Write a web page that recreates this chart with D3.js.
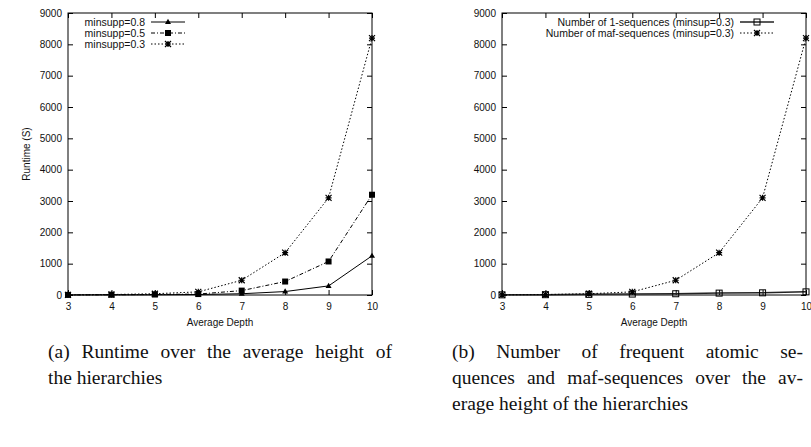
<!DOCTYPE html>
<html>
<head>
<meta charset="utf-8">
<script src="https://cdn.jsdelivr.net/npm/d3@7"></script>
<style>
  html, body { margin: 0; padding: 0; background: #fff; }
  svg { display: block; }
  .lbl { font-family: "Liberation Sans", Arial, sans-serif; font-size: 10.5px; fill: #111; }
  .tlbl { font-family: "Liberation Sans", Arial, sans-serif; font-size: 10px; fill: #111; }
  .cap { font-family: "Liberation Serif", "Times New Roman", serif; font-size: 19.5px; fill: #111; }
</style>
</head>
<body>
<svg id="chart" width="811" height="447"></svg>
<script>
// ---------- data ----------
const depths = [3, 4, 5, 6, 7, 8, 9, 10];
const xTicks = [3, 4, 5, 6, 7, 8, 9, 10];
const yTicks = [0, 1000, 2000, 3000, 4000, 5000, 6000, 7000, 8000, 9000];

const runtime08 = [2, 5, 8, 15, 40, 110, 290, 1250];
const runtime05 = [3, 8, 15, 30, 140, 430, 1070, 3200];
const runtime03 = [5, 15, 40, 100, 470, 1350, 3100, 8200];

const oneSeq = [5, 10, 20, 30, 40, 60, 70, 100];
const mafSeq = [5, 15, 40, 100, 470, 1350, 3100, 8200];

const leftLabels = ["minsupp=0.8", "minsupp=0.5", "minsupp=0.3"];
const rightLabels = ["Number of 1-sequences (minsup=0.3)", "Number of maf-sequences (minsup=0.3)"];

const captionA = ["(a) Runtime over the average height of", "the hierarchies"];
const captionB = ["(b) Number of frequent atomic se-", "quences and maf-sequences over the av-", "erage height of the hierarchies"];

// ---------- drawing ----------
const svg = d3.select("#chart");

function marker(g, type, x, y) {
  const s = 3;
  if (type === "tri") {
    g.append("path").attr("d", `M${x},${y - 3.2}L${x + 3},${y + 2}L${x - 3},${y + 2}Z`).attr("fill", "#000");
  } else if (type === "sq") {
    g.append("rect").attr("x", x - 3).attr("y", y - 3).attr("width", 6).attr("height", 6).attr("fill", "#000");
  } else if (type === "osq") {
    g.append("rect").attr("x", x - 3).attr("y", y - 3).attr("width", 6).attr("height", 6)
      .attr("fill", "none").attr("stroke", "#000").attr("stroke-width", 1);
  } else if (type === "star") {
    g.append("path").attr("d",
      `M${x - s},${y}H${x + s}M${x},${y - s}V${y + s}M${x - s},${y - s}L${x + s},${y + s}M${x - s},${y + s}L${x + s},${y - s}`)
      .attr("stroke", "#000").attr("stroke-width", 1.2).attr("fill", "none");
  }
}

function panel(opts) {
  const g = svg.append("g");
  const x = d3.scaleLinear().domain([3, 10]).range([opts.x0, opts.x1]);
  const y = d3.scaleLinear().domain([0, 9000]).range([295, 13]);

  // frame
  g.append("rect").attr("x", opts.x0).attr("y", 13)
    .attr("width", opts.x1 - opts.x0).attr("height", 282)
    .attr("fill", "none").attr("stroke", "#000").attr("stroke-width", 1);

  // axes (inward ticks, mirrored)
  const ax = g.append("g").attr("transform", "translate(0,295)")
    .call(d3.axisBottom(x).tickValues(xTicks).tickSizeInner(-5).tickSizeOuter(0).tickPadding(8).tickFormat(d3.format("d")));
  ax.select(".domain").remove();
  const axt = g.append("g").attr("transform", "translate(0,13)")
    .call(d3.axisTop(x).tickValues(xTicks).tickSizeInner(-5).tickSizeOuter(0).tickFormat(""));
  axt.select(".domain").remove();
  const ay = g.append("g").attr("transform", `translate(${opts.x0},0)`)
    .call(d3.axisLeft(y).tickValues(yTicks).tickSizeInner(-5).tickSizeOuter(0).tickPadding(6).tickFormat(d3.format("d")));
  ay.select(".domain").remove();
  const ayr = g.append("g").attr("transform", `translate(${opts.x1},0)`)
    .call(d3.axisRight(y).tickValues(yTicks).tickSizeInner(-5).tickSizeOuter(0).tickFormat(""));
  ayr.select(".domain").remove();
  g.selectAll(".tick line").attr("stroke", "#000");
  g.selectAll(".tick text").attr("class", "tlbl").attr("fill", "#111")
    .attr("font-family", null).attr("font-size", null);

  // x label
  g.append("text").attr("class", "tlbl").attr("x", (opts.x0 + opts.x1) / 2).attr("y", 326)
    .attr("text-anchor", "middle").text("Average Depth");
  if (opts.ylabel) {
    g.append("text").attr("class", "tlbl")
      .attr("transform", `translate(${opts.x0 - 38},154) rotate(-90)`)
      .attr("text-anchor", "middle").text(opts.ylabel);
  }

  // series
  const line = d3.line().x((d, i) => x(depths[i])).y(d => y(d));
  opts.series.forEach(s => {
    g.append("path").datum(s.values).attr("d", line)
      .attr("fill", "none").attr("stroke", s.color || "#000").attr("stroke-width", s.width || 1)
      .attr("stroke-dasharray", s.dash || null);
    s.values.forEach((v, i) => marker(g, s.marker, x(depths[i]), y(v)));
  });

  // legend
  opts.series.forEach((s, i) => {
    const ly = 22 + i * 11;
    g.append("text").attr("class", "lbl").attr("x", opts.legX).attr("y", ly + 3.5)
      .attr("text-anchor", "end").text(s.label);
    g.append("line").attr("x1", opts.legX + 6).attr("x2", opts.legX + 6 + opts.legW)
      .attr("y1", ly).attr("y2", ly)
      .attr("stroke", s.color || "#000").attr("stroke-width", s.width || 1)
      .attr("stroke-dasharray", s.dash || null);
    marker(g, s.marker, opts.legX + 6 + opts.legW / 2, ly);
  });
}

panel({
  x0: 68, x1: 372, ylabel: "Runtime (S)", legX: 145, legW: 34,
  series: [
    { label: leftLabels[0], values: runtime08, marker: "tri" },
    { label: leftLabels[1], values: runtime05, marker: "sq", dash: "4,2,1,2" },
    { label: leftLabels[2], values: runtime03, marker: "star", dash: "1.5,2" }
  ]
});

panel({
  x0: 502, x1: 806, ylabel: null, legX: 734, legW: 34,
  series: [
    { label: rightLabels[0], values: oneSeq, marker: "osq", color: "#222", width: 1.5 },
    { label: rightLabels[1], values: mafSeq, marker: "star", dash: "1.5,2" }
  ]
});

// captions (justified)
function caption(lines, x0, x1, y0, lh) {
  lines.forEach((ln, li) => {
    const y = y0 + li * lh;
    const words = ln.split(" ");
    const last = li === lines.length - 1;
    const tmp = svg.append("g");
    const widths = words.map(w => {
      const t = tmp.append("text").attr("class", "cap").text(w);
      return t.node().getComputedTextLength();
    });
    tmp.remove();
    const total = d3.sum(widths);
    const gap = last ? 19.5 * 0.25 : (x1 - x0 - total) / (words.length - 1);
    let cx = x0;
    words.forEach((w, i) => {
      svg.append("text").attr("class", "cap").attr("x", cx).attr("y", y).text(w);
      cx += widths[i] + gap;
    });
  });
}
caption(captionA, 48, 392, 358, 26);
caption(captionB, 452, 803, 358, 26);
</script>
</body>
</html>
